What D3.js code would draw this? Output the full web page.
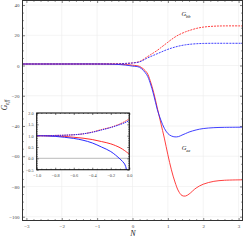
<!DOCTYPE html>
<html><head><meta charset="utf-8">
<script src="https://cdn.jsdelivr.net/npm/d3@7"></script>
<style>
body{margin:0;background:#fff;}
svg{display:block;}
text{font-family:"Liberation Serif","DejaVu Serif",serif;}
</style></head>
<body>
<svg id="c" width="243" height="241"></svg>
<script>
// ---- main plot data ----
const mainN = [-3.1,-2,-1,-0.5,-0.2,0,0.2,0.4,0.5,0.6,0.7,0.8,0.9,1.0,1.1,1.2,1.3,1.4,1.5,1.6,1.8,2.0,2.3,2.6,3.1];
const geeRed  = [1,1,1,0.89,0.64,0.19,-0.6,-4.5,-10,-18,-28,-38,-48,-59,-69,-77,-83,-86,-86.3,-85,-81,-78.5,-76.6,-75.9,-75.6];
const geeBlue = [1,1,1,0.8,0.3,-0.4,-1.2,-6,-11.5,-19.5,-29,-36,-41.5,-45,-46.6,-47.2,-47,-46,-45,-44,-42.6,-41.7,-41.1,-40.9,-40.8];
const gbbRed  = [1,1,1,1.08,1.37,1.74,2.6,5.5,7,8.5,10,11.8,13.6,15.4,17.2,18.8,20.2,21.3,22.3,23.1,24.5,25.4,26,26.2,26.2];
const gbbBlue = [1,1,1,1.08,1.37,1.66,2.4,4.7,5.8,6.8,7.8,8.8,9.8,10.7,11.5,12.2,12.8,13.3,13.7,14,14.4,14.6,14.7,14.7,14.7];
const mainXTicks = [-3,-2,-1,0,1,2,3];
const mainYTicks = [-100,-80,-60,-40,-20,0,20,40];

// ---- inset data ----
const insN = [-1,-0.9,-0.8,-0.7,-0.6,-0.5,-0.4,-0.3,-0.2,-0.1,-0.05,-0.03,0];
const insGeeRed  = [1,0.995,0.985,0.965,0.93,0.89,0.83,0.74,0.64,0.47,0.34,0.28,0.19];
const insGeeBlue = [1,0.99,0.97,0.93,0.88,0.8,0.68,0.5,0.3,-0.03,-0.25,-0.5,-1.0];
const insGbbRed  = [1,1,1.01,1.02,1.04,1.08,1.16,1.27,1.37,1.52,1.62,1.67,1.74];
const insGbbBlue = [1,1,1.01,1.02,1.04,1.08,1.15,1.25,1.36,1.49,1.57,1.61,1.66];
const insXTicks = [-1.0,-0.8,-0.6,-0.4,-0.2,0.0];
const insYTicks = [-0.5,0.0,0.5,1.0,1.5,2.0];

const RED = "#ff2a2a", BLUE = "#2a2aff";
const svg = d3.select("#c");
const fmtMinus = s => s.replace("-", "\u2212");

// main scales
const x = d3.scaleLinear([-3.11, 3.11], [22.5, 242.5]);
const y = d3.scaleLinear([-102.5, 43], [220.5, 0.5]);

const main = svg.append("g");
main.append("defs").append("clipPath").attr("id","mclip")
  .append("rect").attr("x",22.5).attr("y",0.5).attr("width",220).attr("height",220);

// gridlines
main.append("g").selectAll("line").data(mainXTicks).join("line")
  .attr("x1",d=>x(d)).attr("x2",d=>x(d)).attr("y1",0.5).attr("y2",220.5)
  .attr("stroke","#ececec").attr("stroke-width",0.6);
main.append("g").selectAll("line").data(mainYTicks).join("line")
  .attr("y1",d=>y(d)).attr("y2",d=>y(d)).attr("x1",22.5).attr("x2",242.5)
  .attr("stroke","#ececec").attr("stroke-width",0.6);

function addAxes(g, xs, ys, xT, yT, xMinor, yMinor, xfmt, yfmt, fs, big, small, col){
  const [x0,x1] = xs.range(), [y0,y1] = ys.range();
  const mk = (axis, tr) => {
    const a = g.append("g").attr("transform", tr).call(axis);
    a.select(".domain").remove();
    a.selectAll("line").attr("stroke", col).attr("stroke-width",0.6);
    a.selectAll("text").attr("font-size", fs).attr("fill","#444")
      .style("font-family",'"Liberation Serif",serif');
    return a;
  };
  mk(d3.axisBottom(xs).tickValues(xT).tickSizeInner(-big).tickSizeOuter(0).tickPadding(4).tickFormat(xfmt), `translate(0,${y0})`);
  mk(d3.axisBottom(xs).tickValues(xMinor).tickSizeInner(-small).tickSizeOuter(0).tickFormat(""), `translate(0,${y0})`);
  mk(d3.axisTop(xs).tickValues(xT).tickSizeInner(-big).tickSizeOuter(0).tickFormat(""), `translate(0,${y1})`);
  mk(d3.axisTop(xs).tickValues(xMinor).tickSizeInner(-small).tickSizeOuter(0).tickFormat(""), `translate(0,${y1})`);
  mk(d3.axisLeft(ys).tickValues(yT).tickSizeInner(-big).tickSizeOuter(0).tickPadding(3).tickFormat(yfmt), `translate(${x0},0)`);
  mk(d3.axisLeft(ys).tickValues(yMinor).tickSizeInner(-small).tickSizeOuter(0).tickFormat(""), `translate(${x0},0)`);
  mk(d3.axisRight(ys).tickValues(yT).tickSizeInner(-big).tickSizeOuter(0).tickFormat(""), `translate(${x1},0)`);
  mk(d3.axisRight(ys).tickValues(yMinor).tickSizeInner(-small).tickSizeOuter(0).tickFormat(""), `translate(${x1},0)`);
}

const mainXMinor = d3.range(-3, 3.01, 0.2).map(v=>+v.toFixed(2)).filter(v=>Math.abs(v-Math.round(v))>1e-6);
const mainYMinor = d3.range(-100, 41, 5).filter(v=>v%20!==0);
addAxes(main, x, y, mainXTicks, mainYTicks, mainXMinor, mainYMinor,
  d=>fmtMinus(String(d)), d=>fmtMinus(String(d)), 5, 2.5, 1.3, "#333");

// main curves
const lineMain = (arr) => d3.line().x((d,i)=>x(mainN[i])).y(d=>y(d)).curve(d3.curveCatmullRom.alpha(0.5))(arr);
const cg = main.append("g").attr("clip-path","url(#mclip)");
cg.append("path").attr("d", lineMain(gbbRed)).attr("fill","none").attr("stroke",RED).attr("stroke-width",0.9).attr("stroke-dasharray","2,1");
cg.append("path").attr("d", lineMain(gbbBlue)).attr("fill","none").attr("stroke",BLUE).attr("stroke-width",0.9).attr("stroke-dasharray","2,1");
cg.append("path").attr("d", lineMain(geeRed)).attr("fill","none").attr("stroke",RED).attr("stroke-width",0.9);
cg.append("path").attr("d", lineMain(geeBlue)).attr("fill","none").attr("stroke",BLUE).attr("stroke-width",0.9);

// frame
main.append("rect").attr("x",22.5).attr("y",0.5).attr("width",220).attr("height",220)
  .attr("fill","none").attr("stroke","#333").attr("stroke-width",1);

// labels
function gLabel(g, px, py, sub, fs, rot){
  const t = g.append("text").attr("x",px).attr("y",py).attr("font-size",fs)
    .attr("font-style","italic").attr("fill","#222").attr("text-anchor","middle");
  if (rot) t.attr("transform",`rotate(-90,${px},${py})`);
  t.append("tspan").text("G");
  t.append("tspan").attr("font-size",fs*0.7).attr("dy",fs*0.25).text(sub);
  return t;
}
gLabel(svg, 186, 16, "bb", 6.5);
gLabel(svg, 186, 150, "ee", 6.5);
gLabel(svg, 7, 105, "eff", 7.5, true);
svg.append("text").attr("x",133).attr("y",236).attr("font-size",8).attr("font-style","italic")
  .attr("text-anchor","middle").attr("fill","#222").text("N");

// ---- inset ----
const xi = d3.scaleLinear([-1,0],[36.7,129.3]);
const yi = d3.scaleLinear([-0.5,2],[169.7,113]);
const ins = svg.append("g");
ins.append("rect").attr("x",36.7).attr("y",113).attr("width",92.6).attr("height",56.7).attr("fill","#fff");
ins.append("defs").append("clipPath").attr("id","iclip")
  .append("rect").attr("x",36.7).attr("y",113).attr("width",92.6).attr("height",56.7);
ins.append("line").attr("x1",36.7).attr("x2",129.3).attr("y1",yi(0)).attr("y2",yi(0))
  .attr("stroke","#c8c8c8").attr("stroke-width",1.2);
const insXMinor = d3.range(-1,0.001,0.05).map(v=>+v.toFixed(2)).filter(v=>!insXTicks.some(t=>Math.abs(t-v)<1e-6));
const insYMinor = d3.range(-0.5,2.01,0.1).map(v=>+v.toFixed(2)).filter(v=>!insYTicks.some(t=>Math.abs(t-v)<1e-6));
addAxes(ins, xi, yi, insXTicks, insYTicks, insXMinor, insYMinor,
  d=>fmtMinus(d.toFixed(1)), d=>fmtMinus(d.toFixed(1)), 4.3, 2, 1, "#222");
const lineIns = (arr) => d3.line().x((d,i)=>xi(insN[i])).y(d=>yi(d)).curve(d3.curveCatmullRom.alpha(0.5))(arr);
const ic = ins.append("g").attr("clip-path","url(#iclip)");
ic.append("path").attr("d", lineIns(insGeeRed)).attr("fill","none").attr("stroke",RED).attr("stroke-width",1);
ic.append("path").attr("d", lineIns(insGeeBlue)).attr("fill","none").attr("stroke",BLUE).attr("stroke-width",1);
ic.append("path").attr("d", lineIns(insGbbRed)).attr("fill","none").attr("stroke",RED).attr("stroke-width",1).attr("stroke-dasharray","1.5,0.8");
ic.append("path").attr("d", lineIns(insGbbBlue)).attr("fill","none").attr("stroke",BLUE).attr("stroke-width",1).attr("stroke-dasharray","1.5,0.8");
ins.append("rect").attr("x",36.7).attr("y",113).attr("width",92.6).attr("height",56.7)
  .attr("fill","none").attr("stroke","#111").attr("stroke-width",1.1);
</script>
</body></html>
